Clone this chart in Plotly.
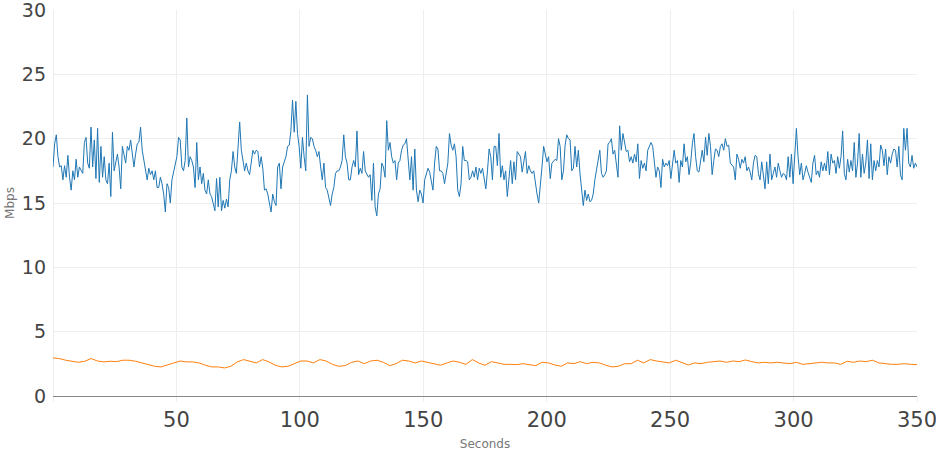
import numpy as np
import plotly.graph_objects as go

# Download throughput (Mbps), evenly spaced in time
download_mbps = [
    17.8,19.6,20.3,18.6,17.8,17.9,16.8,17.9,17.0,18.7,17.0,16.0,17.5,16.8,18.4,17.0,17.8,17.5,17.3,19.7,
    20.1,18.1,17.7,20.9,17.8,19.9,16.9,20.8,16.6,19.4,17.0,18.6,16.8,16.5,18.1,15.5,20.5,17.5,18.3,18.8,
    17.8,16.1,19.4,18.6,18.1,19.4,19.1,19.9,18.7,17.8,18.8,19.6,19.7,20.9,19.1,18.3,17.3,16.8,17.7,17.2,
    17.5,16.8,17.5,16.2,16.2,17.0,16.5,15.7,14.3,16.5,16.2,15.0,16.8,17.5,18.1,18.6,20.1,19.9,17.8,17.5,
    18.3,21.6,17.8,18.6,18.3,17.8,16.2,19.7,16.8,17.8,16.5,17.3,16.0,15.7,16.8,15.7,15.5,15.0,14.4,16.9,
    14.7,17.0,14.4,15.2,14.6,15.3,14.7,16.8,17.5,19.0,17.8,17.3,19.4,21.3,19.1,18.3,17.5,18.1,17.5,17.2,
    18.1,19.1,18.8,19.1,19.0,17.8,18.6,17.7,16.0,16.1,15.7,15.0,14.3,15.7,15.1,14.8,17.8,18.1,16.1,17.8,
    18.3,18.6,19.4,19.5,20.6,23.0,20.5,22.9,20.4,19.4,17.7,20.1,18.6,17.5,23.4,19.4,20.1,20.0,19.4,19.1,
    18.6,19.0,17.8,16.8,18.1,16.2,16.0,15.5,14.8,15.7,16.2,17.3,17.5,17.5,17.8,18.3,
    20.3,18.6,18.1,16.8,16.8,17.8,18.3,17.8,20.6,17.2,17.7,17.3,19.0,17.5,17.2,17.0,17.2,15.2,18.1,14.7,
    14.0,15.7,16.1,18.1,17.8,17.0,21.4,19.1,19.7,18.6,18.1,18.3,16.8,18.1,18.3,19.1,19.5,19.6,20.0,18.3,
    16.8,18.6,16.0,19.2,16.0,15.1,16.0,15.7,15.0,16.8,17.3,17.7,17.4,16.8,16.0,18.1,19.4,19.2,17.5,17.5,
    17.3,16.5,17.3,18.1,20.4,19.5,19.1,19.6,18.6,16.0,15.5,16.5,19.4,18.3,18.3,18.2,16.8,17.0,17.5,17.0,
    17.8,16.8,17.7,17.3,17.7,16.8,16.1,17.5,19.2,18.6,16.8,19.4,19.4,17.9,20.4,17.0,17.9,16.8,17.5,15.5,
    17.0,18.3,16.5,18.2,16.8,19.0,18.8,18.6,17.4,18.2,19.0,17.3,17.9,17.5,17.3,17.5,16.5,15.7,15.0,16.2,
    17.8,19.4,18.8,18.2,18.6,16.9,18.1,18.3,18.4,18.3,20.0,19.4,16.8,17.5,19.5,20.3,20.0,19.9,17.5,17.7,
    19.4,17.8,19.1,17.3,16.0,14.8,16.0,15.2,15.7,15.1,15.2,15.7,16.8,17.7,18.6,19.1,17.3,17.0,17.2,17.5,
    19.6,19.7,20.0,18.8,19.1,17.8,17.0,21.0,19.1,20.4,19.6,19.0,19.1,18.2,
    18.6,18.1,18.8,18.2,19.6,16.9,18.3,17.7,18.1,17.5,19.1,19.4,19.7,19.4,18.3,17.0,17.8,17.5,16.2,18.4,
    17.8,18.1,17.9,18.3,16.9,17.8,19.1,18.1,18.3,16.6,18.3,17.8,19.6,18.2,18.6,17.2,18.1,19.6,20.4,18.6,
    17.5,17.4,18.3,19.1,18.2,20.1,18.7,20.4,19.4,17.2,18.3,19.2,19.1,18.6,19.4,19.6,19.1,20.0,19.4,19.5,
    18.1,17.9,17.8,16.8,18.8,18.4,17.7,18.4,18.1,18.6,17.5,17.8,17.4,16.8,18.1,18.7,18.6,17.3,16.8,18.2,
    17.3,16.1,18.2,16.5,18.8,16.8,17.3,17.8,17.0,18.1,17.5,17.0,17.3,17.2,16.8,18.6,17.0,18.8,16.5,19.2,
    20.8,18.6,17.2,18.1,16.8,17.3,17.9,17.4,17.0,16.6,18.1,18.7,17.2,17.5,17.0,18.2,17.5,18.1,17.5,19.0,
    17.2,18.8,18.1,18.3,17.3,18.6,17.7,18.6,20.6,17.3,16.8,18.4,17.4,18.3,17.5,19.7,17.0,18.1,20.4,17.0,
    18.8,17.3,18.1,19.9,16.9,19.6,16.8,18.3,17.5,18.3,17.8,19.5,19.1,17.9,19.2,17.2,18.6,18.1,18.8,19.2,
    19.1,17.8,19.4,17.2,16.8,20.8,19.1,20.8,18.1,17.8,18.7,17.7,18.1,17.8,
]

# Upload throughput (Mbps), evenly spaced in time
upload_mbps = [
    2.96,2.91,2.78,2.70,2.62,2.70,2.91,2.72,2.65,2.70,2.67,2.78,2.78,2.70,2.57,2.46,2.31,2.26,2.39,2.57,
    2.72,2.65,2.65,2.57,2.39,2.26,2.26,2.18,2.31,2.65,2.83,2.72,2.57,2.83,2.65,2.39,2.26,2.31,2.51,2.72,
    2.72,2.57,2.83,2.72,2.46,2.31,2.36,2.62,2.72,2.51,2.72,2.78,2.62,2.36,2.51,2.78,2.72,2.57,2.72,2.62,
    2.51,2.39,2.57,2.72,2.62,2.46,2.83,2.57,2.39,2.67,2.57,2.46,2.46,2.44,
    2.51,2.46,2.36,2.62,2.57,2.41,2.31,2.57,2.51,2.67,2.51,2.62,2.57,2.39,2.26,2.31,2.51,2.51,2.78,2.57,
    2.83,2.72,2.62,2.57,2.78,2.57,2.41,2.57,2.51,2.62,2.67,2.72,2.62,2.72,2.67,2.80,2.67,2.57,2.62,2.57,
    2.62,2.57,2.51,2.62,2.46,2.51,2.57,2.62,2.57,2.57,2.46,2.70,2.62,2.72,2.67,2.78,2.57,2.51,2.46,2.46,
    2.51,2.46,2.44,
]

duration_s = 350
x_tick_vals = [0, 50, 100, 150, 200, 250, 300, 350]
x_tick_text = ["", "50", "100", "150", "200", "250", "300", "350"]
y_tick_vals = [0, 5, 10, 15, 20, 25, 30]

t_down = np.linspace(0, duration_s, len(download_mbps))
t_up = np.linspace(0, duration_s, len(upload_mbps))

fig = go.Figure()
fig.add_trace(go.Scatter(x=t_down, y=download_mbps, mode="lines",
                         line=dict(color="#1f77b4", width=1), name="Download"))
fig.add_trace(go.Scatter(x=t_up, y=upload_mbps, mode="lines",
                         line=dict(color="#ff7f0e", width=1), name="Upload"))

fig.update_layout(
    width=936, height=454,
    margin=dict(l=53, r=19, t=10, b=58),
    paper_bgcolor="white", plot_bgcolor="white",
    showlegend=False,
    font=dict(family="DejaVu Sans", color="#444"),
    xaxis=dict(
        range=[0, duration_s], tickmode="array", tickvals=x_tick_vals, ticktext=x_tick_text,
        automargin=False, ticklabeloverflow="allow",
        showgrid=True, gridcolor="#eeeeee", gridwidth=1,
        zeroline=True, zerolinecolor="#eeeeee", zerolinewidth=1,
        ticks="outside", ticklen=5, tickcolor="#eeeeee",
        tickfont=dict(family="DejaVu Sans", size=21, color="#444"),
        title=dict(text="Seconds", font=dict(family="DejaVu Sans", size=12, color="#777"), standoff=8),
    ),
    yaxis=dict(
        range=[0, 30], tickmode="array", tickvals=y_tick_vals,
        automargin=False, ticklabeloverflow="allow",
        showgrid=True, gridcolor="#eeeeee", gridwidth=1,
        zeroline=True, zerolinecolor="#888888", zerolinewidth=1,
        ticks="", ticklabelstandoff=6,
        tickfont=dict(family="DejaVu Sans", size=19, color="#444"),
        title=dict(text="Mbps", font=dict(family="DejaVu Sans", size=12, color="#777"), standoff=4),
    ),
)

fig.write_html("out.html")
